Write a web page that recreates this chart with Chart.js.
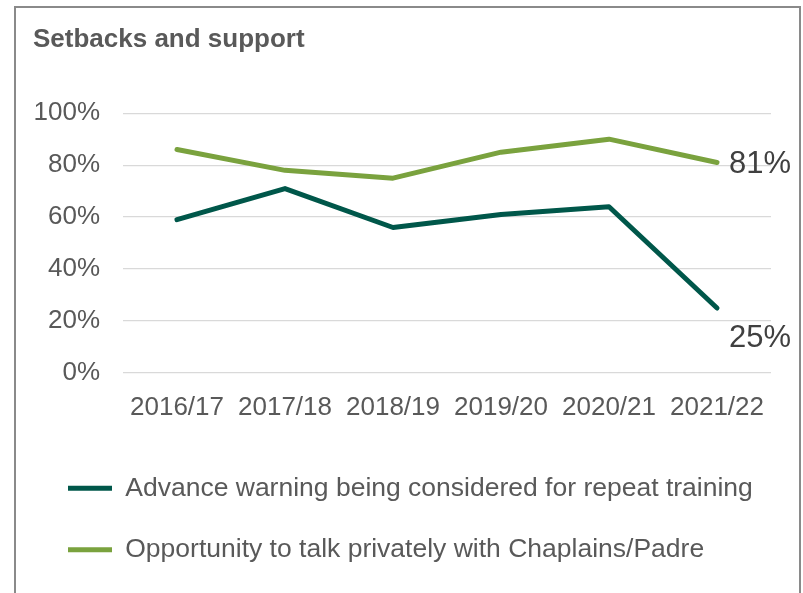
<!DOCTYPE html>
<html lang="en">
<head>
  <meta charset="UTF-8" />
  <title>Setbacks and support</title>
  <style>
    html, body { margin: 0; padding: 0; background: #fff; overflow: hidden; }
    #frame {
      position: absolute; left: 14px; top: 6px; width: 787px; height: 640px;
      border: 2px solid #8a8a8a; box-sizing: border-box;
    }
    #wrap { position: absolute; left: 0; top: 0; }
  </style>
</head>
<body>
  <div id="frame"></div>
  <div id="wrap">
    <canvas id="chart" width="803" height="593"></canvas>
  </div>

  <script src="https://cdn.jsdelivr.net/npm/chart.js"></script>
  <script>
    // chart data
    const years = ['2016/17', '2017/18', '2018/19', '2019/20', '2020/21', '2021/22'];
    const advanceWarning = [59, 71, 56, 61, 64, 25];
    const talkPrivately = [86, 78, 75, 85, 90, 81];
    const seriesNames = [
      'Advance warning being considered for repeat training',
      'Opportunity to talk privately with Chaplains/Padre'
    ];
    const yTicks = [0, 20, 40, 60, 80, 100];

    const darkGreen = '#00574a';
    const lightGreen = '#7aa23e';
    const fontFamily = '"Liberation Sans", Arial, sans-serif';

    // label on last point of each line
    const endLabels = {
      id: 'endLabels',
      afterDatasetsDraw(chart) {
        const ctx = chart.ctx;
        const offsets = [30, 2];
        ctx.save();
        ctx.font = '31px ' + fontFamily;
        ctx.fillStyle = '#404040';
        ctx.textAlign = 'left';
        ctx.textBaseline = 'middle';
        chart.data.datasets.forEach((ds, i) => {
          const meta = chart.getDatasetMeta(i);
          const last = ds.data.length - 1;
          const pt = meta.data[last];
          ctx.fillText(ds.data[last] + '%', pt.x + 12, pt.y + offsets[i]);
        });
        ctx.restore();
      }
    };

    const chart = new Chart(document.getElementById('chart'), {
      type: 'line',
      data: {
        labels: years,
        datasets: [
          {
            label: seriesNames[0],
            data: advanceWarning,
            borderColor: darkGreen,
            backgroundColor: darkGreen,
            borderWidth: 5,
            borderCapStyle: 'round',
            borderJoinStyle: 'round',
            pointRadius: 0,
            tension: 0
          },
          {
            label: seriesNames[1],
            data: talkPrivately,
            borderColor: lightGreen,
            backgroundColor: lightGreen,
            borderWidth: 5,
            borderCapStyle: 'round',
            borderJoinStyle: 'round',
            pointRadius: 0,
            tension: 0
          }
        ]
      },
      options: {
        responsive: false,
        animation: false,
        layout: { padding: { left: 33, right: 32, top: 0, bottom: 20 } },
        plugins: {
          tooltip: { enabled: false },
          title: {
            display: true,
            text: 'Setbacks and support',
            align: 'start',
            color: '#595959',
            font: { family: fontFamily, size: 26, weight: 'bold' },
            padding: { top: 24, bottom: 58 }
          },
          legend: {
            position: 'bottom',
            align: 'start',
            labels: {
              usePointStyle: true,
              pointStyle: 'line',
              pointStyleWidth: 44,
              padding: 35,
              color: '#595959',
              font: { family: fontFamily, size: 26.5 }
            }
          }
        },
        scales: {
          x: {
            offset: true,
            grid: { display: false },
            border: { display: false },
            ticks: {
              color: '#595959',
              padding: 11,
              font: { family: fontFamily, size: 26 }
            },
            afterFit(scale) { scale.height = 67; }
          },
          y: {
            min: 0,
            max: 100,
            afterBuildTicks(scale) { scale.ticks = yTicks.map(v => ({ value: v })); },
            grid: { color: '#d9d9d9', lineWidth: 1.3, drawTicks: false },
            border: { display: false },
            ticks: {
              color: '#595959',
              padding: 23,
              font: { family: fontFamily, size: 26 },
              callback: v => v + '%'
            },
            afterFit(scale) { scale.width = 90; }
          }
        }
      },
      plugins: [endLabels]
    });
  </script>
</body>
</html>
